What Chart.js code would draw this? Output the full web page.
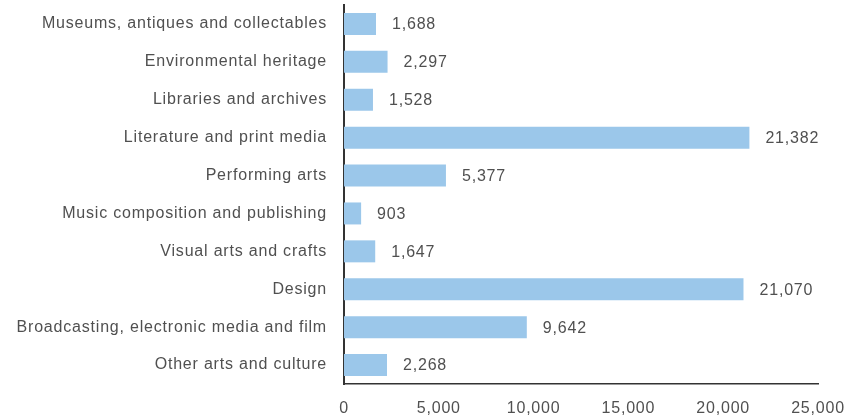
<!DOCTYPE html>
<html>
<head>
<meta charset="utf-8">
<script src="https://cdn.jsdelivr.net/npm/chart.js@4"></script>
<style>
  html, body { margin: 0; padding: 0; background: #fff; }
  #wrap { width: 856px; height: 418px; }
</style>
</head>
<body>
<div id="wrap"><canvas id="myChart"></canvas></div>
<script>
// Categories and counts
const categories = [
  'Museums, antiques and collectables',
  'Environmental heritage',
  'Libraries and archives',
  'Literature and print media',
  'Performing arts',
  'Music composition and publishing',
  'Visual arts and crafts',
  'Design',
  'Broadcasting, electronic media and film',
  'Other arts and culture'
];
const counts = [1688, 2297, 1528, 21382, 5377, 903, 1647, 21070, 9642, 2268];

const ctx = document.getElementById('myChart');
const textColor = '#505050';
const fontFamily = '"Liberation Sans", Arial, sans-serif';

// Slightly spaced-out lettering for all text on the canvas
const spacing = {
  id: 'spacing',
  beforeDraw(chart) {
    chart.ctx.letterSpacing = '0.8px';
  }
};

// Write each value just past the end of its bar
const valueLabels = {
  id: 'valueLabels',
  afterDatasetsDraw(chart) {
    const c = chart.ctx;
    const meta = chart.getDatasetMeta(0);
    c.save();
    c.fillStyle = textColor;
    c.font = '16px ' + fontFamily;
    c.textAlign = 'left';
    c.textBaseline = 'middle';
    meta.data.forEach(function(bar, i) {
      c.fillText(counts[i].toLocaleString('en-US'), bar.x + 16, bar.y + 1);
    });
    c.restore();
  }
};

new Chart(ctx, {
  type: 'bar',
  data: {
    labels: categories,
    datasets: [{
      data: counts,
      backgroundColor: '#9bc7ea',
      borderWidth: 0,
      barPercentage: 0.58,
      categoryPercentage: 1
    }]
  },
  options: {
    indexAxis: 'y',
    responsive: true,
    maintainAspectRatio: false,
    animation: false,
    layout: { padding: { top: 5, right: 38, bottom: 0, left: 0 } },
    plugins: {
      legend: { display: false },
      tooltip: { enabled: false }
    },
    scales: {
      x: {
        min: 0,
        max: 25000,
        grid: { display: false, drawTicks: false },
        border: { display: true, color: '#333', width: 1.5 },
        ticks: {
          stepSize: 5000,
          color: textColor,
          font: { family: fontFamily, size: 16 },
          padding: 15,
          maxRotation: 0,
          callback: v => v.toLocaleString('en-US')
        },
        afterFit(scale) {
          scale.height = 34;
          scale.paddingLeft = 0;
          scale.paddingRight = 0;
        }
      },
      y: {
        grid: { display: false, drawTicks: false },
        border: { display: true, color: '#333', width: 2 },
        ticks: {
          color: textColor,
          font: { family: fontFamily, size: 16 },
          padding: 17
        },
        afterFit(scale) {
          scale.width = 344;
          scale.paddingTop = 0;
          scale.paddingBottom = 0;
        }
      }
    }
  },
  plugins: [spacing, valueLabels]
});
</script>
</body>
</html>
